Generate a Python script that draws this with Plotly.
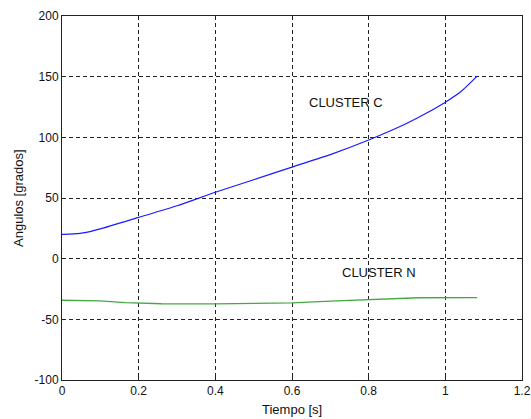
import plotly.graph_objects as go

# Cluster C (blue)
t_c = [0.0, 0.03, 0.06, 0.1, 0.2, 0.3, 0.4, 0.5, 0.6, 0.7, 0.8, 0.9, 0.95, 1.0, 1.04, 1.083]
ang_c = [20.1, 20.4, 21.4, 24.5, 34.0, 43.6, 54.7, 65.0, 75.5, 85.8, 97.8, 111.6, 119.8, 129.0, 137.6, 150.5]

# Cluster N (green)
t_n = [0.0, 0.1, 0.165, 0.26, 0.4, 0.55, 0.6, 0.7, 0.8, 0.93, 1.083]
ang_n = [-34.3, -34.8, -36.2, -37.2, -37.3, -37.0, -36.4, -35.0, -33.6, -32.2, -32.1]

x_ticks = [0, 0.2, 0.4, 0.6, 0.8, 1.0, 1.2]
x_tick_labels = ["0", "0.2", "0.4", "0.6", "0.8", "1", "1.2"]
y_ticks = [-100, -50, 0, 50, 100, 150, 200]
y_tick_labels = ["-100", "-50", "0", "50", "100", "150", "200"]

labels = ["CLUSTER C", "CLUSTER N"]
label_t = [0.742, 0.828]
label_ang = [128.9, -11.5]

x_title = "Tiempo [s]"
y_title = "Angulos [grados]"

FONT = "Liberation Sans, Arial, sans-serif"

fig = go.Figure()
fig.add_trace(go.Scatter(x=t_c, y=ang_c, mode="lines",
                         line=dict(color="#1a1aff", width=1.2, shape="spline", smoothing=0.6),
                         showlegend=False))
fig.add_trace(go.Scatter(x=t_n, y=ang_n, mode="lines",
                         line=dict(color="#45a845", width=1.4),
                         showlegend=False))

for txt, tx, ty in zip(labels, label_t, label_ang):
    fig.add_annotation(x=tx, y=ty, text=txt, showarrow=False,
                       font=dict(family=FONT, size=13, color="#111"),
                       xanchor="center", yanchor="middle")

fig.add_annotation(xref="paper", yref="paper", x=0.5, y=-0.0797, text=x_title,
                   showarrow=False, font=dict(family=FONT, size=13, color="#111"),
                   xanchor="center", yanchor="middle")
fig.add_annotation(xref="paper", yref="paper", x=-0.0957, y=0.5, text=y_title,
                   textangle=-90, showarrow=False,
                   font=dict(family=FONT, size=13, color="#111"),
                   xanchor="center", yanchor="middle")

axis_common = dict(showline=True, linecolor="#222", linewidth=1, mirror="ticks",
                   ticks="inside", ticklen=4, tickcolor="#222",
                   showgrid=True, gridcolor="#222", gridwidth=1, griddash="4px,3px",
                   zeroline=False, automargin=False,
                   tickfont=dict(family=FONT, size=12, color="#111"))

fig.update_xaxes(range=[0, 1.2], tickvals=x_ticks, ticktext=x_tick_labels, **axis_common)
fig.update_yaxes(range=[-100, 200], tickvals=y_ticks, ticktext=y_tick_labels, **axis_common)

fig.update_layout(width=531, height=419,
                  margin=dict(l=62, r=9, t=16, b=39),
                  paper_bgcolor="white", plot_bgcolor="white",
                  font=dict(family=FONT, size=12, color="#111"))

fig.write_html("out.html")
